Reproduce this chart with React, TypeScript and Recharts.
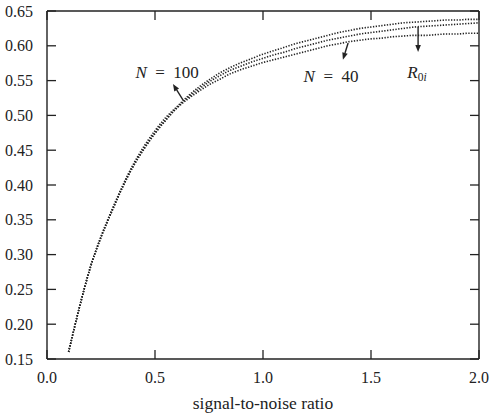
import React from 'react';
import { LineChart, Line, XAxis, YAxis, ReferenceLine, ReferenceDot } from 'recharts';

// ---- data ----
const snr = [0.10, 0.15, 0.20, 0.25, 0.30, 0.35, 0.40, 0.45, 0.50, 0.55, 0.60, 0.65, 0.70, 0.75, 0.80, 0.85, 0.90, 0.95, 1.00, 1.05, 1.10, 1.15, 1.20, 1.25, 1.30, 1.35, 1.40, 1.45, 1.50, 1.55, 1.60, 1.65, 1.70, 1.75, 1.80, 1.85, 1.90, 1.95, 2.00];
const r0i = [0.160, 0.224, 0.281, 0.325, 0.362, 0.397, 0.427, 0.452, 0.474, 0.493, 0.510, 0.523, 0.534, 0.544, 0.552, 0.560, 0.566, 0.571, 0.576, 0.580, 0.584, 0.588, 0.592, 0.596, 0.600, 0.603, 0.606, 0.608, 0.610, 0.611, 0.613, 0.614, 0.615, 0.615, 0.616, 0.617, 0.617, 0.618, 0.618];
const n40 = [0.160, 0.224, 0.281, 0.325, 0.362, 0.397, 0.428, 0.453, 0.475, 0.494, 0.511, 0.525, 0.537, 0.548, 0.557, 0.565, 0.571, 0.577, 0.582, 0.587, 0.591, 0.596, 0.600, 0.604, 0.608, 0.611, 0.614, 0.617, 0.619, 0.621, 0.623, 0.625, 0.627, 0.628, 0.629, 0.630, 0.631, 0.632, 0.633];
const n100 = [0.160, 0.224, 0.281, 0.326, 0.364, 0.399, 0.430, 0.456, 0.478, 0.497, 0.512, 0.527, 0.540, 0.551, 0.561, 0.569, 0.576, 0.582, 0.588, 0.593, 0.598, 0.603, 0.607, 0.611, 0.615, 0.619, 0.622, 0.625, 0.627, 0.629, 0.631, 0.633, 0.634, 0.635, 0.636, 0.637, 0.637, 0.638, 0.638];

const xTicks = [0, 0.5, 1.0, 1.5, 2.0];
const xTickLabels = ['0.0', '0.5', '1.0', '1.5', '2.0'];
const yTicks = [0.15, 0.20, 0.25, 0.30, 0.35, 0.40, 0.45, 0.50, 0.55, 0.60, 0.65];
const yTickLabels = ['0.15', '0.20', '0.25', '0.30', '0.35', '0.40', '0.45', '0.50', '0.55', '0.60', '0.65'];
const xTitle = 'signal-to-noise ratio';

// annotations in data coordinates: arrow tail, arrow head, label anchor
const annotations = [
  { id: 'n100', tail: { x: 0.630, y: 0.522 }, head: { x: 0.583, y: 0.545 }, label: { x: 0.556, y: 0.562 } },
  { id: 'n40', tail: { x: 1.394, y: 0.604 }, head: { x: 1.370, y: 0.580 }, label: { x: 1.315, y: 0.557 } },
  { id: 'r0i', tail: { x: 1.718, y: 0.627 }, head: { x: 1.718, y: 0.591 }, label: { x: 1.713, y: 0.562 } },
];

const data = snr.map((s, i) => ({ snr: s, r0i: r0i[i], n40: n40[i], n100: n100[i] }));

// ---- layout ----
const W = 490;
const H = 413;
const M = { top: 11, right: 11, left: 0, bottom: 0 };
const Y_AXIS_W = 47;
const X_AXIS_H = 54;
const PLOT_LEFT = M.left + Y_AXIS_W;
const PLOT_RIGHT = W - M.right;
const PLOT_TOP = M.top;
const PLOT_BOTTOM = H - M.bottom - X_AXIS_H;
const TICK = 9;
const INK = '#222';
const FONT = 'Liberation Serif';
const TXT = { fontFamily: FONT };

const XTick = (props: any) => {
  const { x, y, index } = props;
  return (
    <g>
      <line x1={x} y1={PLOT_BOTTOM} x2={x} y2={PLOT_BOTTOM - TICK} stroke={INK} strokeWidth={1.3} />
      <line x1={x} y1={PLOT_TOP} x2={x} y2={PLOT_TOP + TICK} stroke={INK} strokeWidth={1.3} />
      <text x={x} y={y + 18} dy="0.35em" textAnchor="middle" style={TXT} fontSize={16} fill={INK}>
        {xTickLabels[index]}
      </text>
    </g>
  );
};

const YTick = (props: any) => {
  const { x, y, index } = props;
  return (
    <g>
      <line x1={PLOT_LEFT} y1={y} x2={PLOT_LEFT + TICK} y2={y} stroke={INK} strokeWidth={1.3} />
      <line x1={PLOT_RIGHT} y1={y} x2={PLOT_RIGHT - TICK} y2={y} stroke={INK} strokeWidth={1.3} />
      <text x={x - 14} y={y} dy="0.35em" textAnchor="end" style={TXT} fontSize={16} fill={INK}>
        {yTickLabels[index]}
      </text>
    </g>
  );
};

const Arrow = (props: any) => {
  const { x1, y1, x2, y2 } = props;
  const ang = Math.atan2(y2 - y1, x2 - x1);
  const L = 7;
  const w = 2.8;
  const bx = x2 - L * Math.cos(ang);
  const by = y2 - L * Math.sin(ang);
  const px = -Math.sin(ang) * w;
  const py = Math.cos(ang) * w;
  return (
    <g>
      <line x1={x1} y1={y1} x2={bx} y2={by} stroke={INK} strokeWidth={1.4} />
      <polygon points={`${x2},${y2} ${bx + px},${by + py} ${bx - px},${by - py}`} fill={INK} />
    </g>
  );
};

const labelShape = (id: string) => (props: any) => {
  const { cx, cy } = props;
  if (id === 'r0i') {
    return (
      <text x={cx} y={cy} dy="0.35em" textAnchor="middle" style={TXT} fontSize={17} fill={INK}>
        <tspan fontStyle="italic">R</tspan>
        <tspan fontSize={11.5} dy={3}>0</tspan>
        <tspan fontSize={11.5} fontStyle="italic">i</tspan>
      </text>
    );
  }
  const num = id === 'n100' ? '100' : '40';
  return (
    <text x={cx} y={cy} dy="0.35em" textAnchor="middle" style={{ ...TXT, whiteSpace: 'pre' }} fontSize={17} fill={INK}>
      <tspan fontStyle="italic">N</tspan>
      <tspan>{'  =  ' + num}</tspan>
    </text>
  );
};

const lineProps = {
  type: 'monotone' as const,
  stroke: INK,
  strokeWidth: 1.6,
  strokeDasharray: '1.3 1.5',
  dot: false,
  isAnimationActive: false,
};

export default function App() {
  return (
    <div style={{ position: 'absolute', left: 0, top: 0, background: '#fff', fontFamily: FONT }}>
      <LineChart width={W} height={H} data={data} margin={M} style={{ fontFamily: FONT }}>
        <XAxis
          dataKey="snr"
          type="number"
          domain={[0, 2]}
          ticks={xTicks}
          allowDataOverflow
          height={X_AXIS_H}
          tickSize={0}
          tickMargin={0}
          tickLine={false}
          axisLine={{ stroke: INK, strokeWidth: 1.4 }}
          tick={<XTick />}
          label={{ value: xTitle, position: 'insideBottom', offset: 4, fontSize: 17.5, fill: INK, fontFamily: FONT, style: { fontFamily: FONT } }}
        />
        <YAxis
          type="number"
          domain={[0.15, 0.65]}
          ticks={yTicks}
          allowDataOverflow
          width={Y_AXIS_W}
          tickSize={0}
          tickMargin={0}
          tickLine={false}
          axisLine={{ stroke: INK, strokeWidth: 1.4 }}
          tick={<YTick />}
        />
        <ReferenceLine y={0.65} stroke={INK} strokeWidth={1.4} />
        <ReferenceLine x={2.0} stroke={INK} strokeWidth={1.4} />
        <Line dataKey="r0i" {...lineProps} />
        <Line dataKey="n40" {...lineProps} />
        <Line dataKey="n100" {...lineProps} />
        {annotations.map((a) => (
          <ReferenceLine key={'arr-' + a.id} segment={[a.tail, a.head]} ifOverflow="visible" shape={<Arrow />} />
        ))}
        {annotations.map((a) => (
          <ReferenceDot key={'lab-' + a.id} x={a.label.x} y={a.label.y} r={0} ifOverflow="visible" shape={labelShape(a.id)} />
        ))}
      </LineChart>
    </div>
  );
}
